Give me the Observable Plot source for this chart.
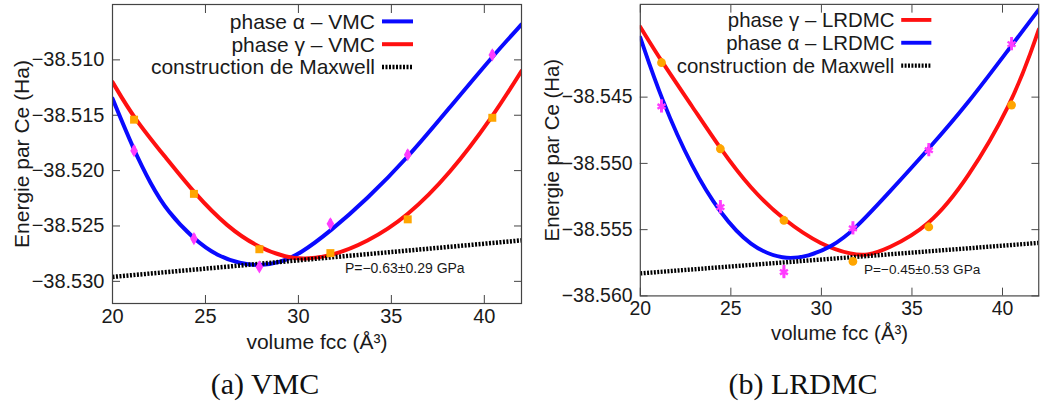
<!DOCTYPE html>
<html><head><meta charset="utf-8">
<script src="https://cdn.jsdelivr.net/npm/d3@7"></script>
<script src="https://cdn.jsdelivr.net/npm/@observablehq/plot@0.6"></script>
<style>
html,body{margin:0;padding:0;background:#fff;overflow:hidden;}
#wrap{position:relative;width:1047px;height:413px;overflow:hidden;background:#fff;}
.panel{position:absolute;top:0;}
.cap{position:absolute;top:366px;font-family:"Liberation Serif",serif;font-size:30px;color:#111;transform:translateX(-50%);white-space:nowrap;line-height:36px;}
</style></head><body>
<div id="wrap">
  <div id="pa" class="panel" style="left:0"></div>
  <div id="pb" class="panel" style="left:530px"></div>
  <div class="cap" id="capa" style="left:265px"></div>
  <div class="cap" id="capb" style="left:803px"></div>
</div>
<script>
// ---------- shared text ----------
const xTitle = "volume fcc (Å³)";
const yTitle = "Energie par Ce (Ha)";
const captions = ["(a) VMC", "(b) LRDMC"];
const xTicks = [20, 25, 30, 35, 40];
const xDomain = [20, 42];

// ---------- (a) VMC ----------
const vmcVolumes = [21.16, 24.38, 27.90, 31.72, 35.88, 40.43];
const vmcAlphaE = [-38.5182, -38.52615, -38.5287, -38.5248, -38.51857, -38.50955];
const vmcAlphaErr = [0.0004, 0.0004, 0.0004, 0.0004, 0.0004, 0.0004];
const vmcGammaE = [-38.5154, -38.5221, -38.5271, -38.52745, -38.5244, -38.51523];
const vmcAlphaFitV = [20, 21.16, 22.05, 22.95, 24.38, 25.63, 26.88, 27.9, 29.03, 30.1, 31.7, 33.67, 35.9, 38.14, 40.43, 42];
const vmcAlphaFitE = [-38.5135, -38.5182, -38.5212, -38.5237, -38.5262, -38.5277, -38.5284, -38.5286, -38.5283, -38.5275, -38.5255, -38.5226, -38.5188, -38.5143, -38.5097, -38.5068];
const vmcGammaFitV = [20, 21.16, 22.95, 24.38, 26.17, 27.9, 29.38, 30.3, 31.7, 33.67, 35.9, 38.14, 40.43, 42];
const vmcGammaFitE = [-38.5120, -38.5153, -38.5190, -38.5220, -38.5251, -38.5270, -38.52785, -38.5280, -38.52775, -38.5265, -38.5241, -38.5203, -38.5152, -38.5110];
const vmcMaxwellV = [20, 42];
const vmcMaxwellE = [-38.5296, -38.5263];
const vmcPressure = "P=−0.63±0.29 GPa";
const vmcPressureAt = [32.5, -38.5288];
const vmcLegend = ["phase α – VMC", "phase γ – VMC", "construction de Maxwell"];
const vmcYTicks = [-38.530, -38.525, -38.520, -38.515, -38.510];
const vmcYDomain = [-38.532, -38.505];

// ---------- (b) LRDMC ----------
const lrdVolumes = [21.17, 24.42, 27.93, 31.74, 35.93, 40.50];
const lrdGammaE = [-38.5424, -38.5489, -38.5543, -38.5574, -38.5548, -38.5456];
const lrdGammaErr = [0.0003, 0.0003, 0.0003, 0.0003, 0.0003, 0.0003];
const lrdAlphaE = [-38.5457, -38.5533, -38.5582, -38.5549, -38.5490, -38.5410];
const lrdAlphaErr = [0.0005, 0.0005, 0.0005, 0.0005, 0.0005, 0.0005];
const lrdAlphaFitV = [20, 21.17, 22.87, 24.42, 26.08, 27.93, 29.31, 30.56, 31.76, 33.6, 35.93, 38.08, 40.5, 42];
const lrdAlphaFitE = [-38.5405, -38.5452, -38.5504, -38.5538, -38.5563, -38.5573, -38.5570, -38.5563, -38.5551, -38.5524, -38.5489, -38.5455, -38.5411, -38.5384];
const lrdGammaFitV = [20, 21.17, 22.87, 24.42, 26.08, 27.93, 30.02, 31.76, 32.5, 33.6, 35.93, 38.08, 40.5, 41.68, 42];
const lrdGammaFitE = [-38.5397, -38.5423, -38.5457, -38.5489, -38.5519, -38.5543, -38.5562, -38.5569, -38.55695, -38.5565, -38.5548, -38.5512, -38.5455, -38.5412, -38.5399];
const lrdMaxwellV = [20, 42];
const lrdMaxwellE = [-38.5583, -38.5560];
const lrdPressure = "P=−0.45±0.53 GPa";
const lrdPressureAt = [32.35, -38.5580];
const lrdLegend = ["phase γ – LRDMC", "phase α – LRDMC", "construction de Maxwell"];
const lrdYTicks = [-38.560, -38.555, -38.550, -38.545];
const lrdYDomain = [-38.560, -38.538];

// ---------- styles ----------
const BLUE = "#0a0aff", RED = "#ff1010", ORANGE = "#ffa500", MAGENTA = "#ff3cff", BLACK = "#000";
const FRAME = "#444", TXT = "#1a1a1a";
const DASH = "2,1.5";

const zip = (xs, ys) => xs.map((x, i) => ({x, y: ys[i]}));
const zipErr = (xs, ys, es) => xs.map((x, i) => ({x, y: ys[i], lo: ys[i] - es[i], hi: ys[i] + es[i]}));

function legendMark(items, opt) {
  return function (index, scales, values, dimensions) {
    const {marginLeft, marginTop} = dimensions;
    const g = d3.create("svg:g");
    items.forEach((it, i) => {
      const y = marginTop + opt.top + i * opt.gap;
      const xe = marginLeft + opt.textEnd;
      g.append("text").attr("x", xe).attr("y", y).attr("dy", "0.35em")
        .attr("text-anchor", "end").attr("font-size", 21).attr("fill", TXT).text(it.label);
      g.append("line").attr("x1", xe + 7).attr("x2", xe + 38)
        .attr("y1", y).attr("y2", y).attr("stroke", it.color).attr("stroke-width", it.width)
        .attr("stroke-linecap", "butt")
        .attr("stroke-dasharray", it.dash || null);
    });
    return g.node();
  };
}

function axes(yTicks) {
  const fmt = d3.format(".3f");
  return [
    Plot.axisX(xTicks, {anchor: "bottom", tickSize: -8, tickFormat: () => "", label: null, stroke: FRAME}),
    Plot.axisX(xTicks, {anchor: "top", tickSize: -8, tickFormat: () => "", label: null, stroke: FRAME}),
    Plot.axisX(xTicks, {anchor: "bottom", tickSize: 0, tickPadding: 5, tickFormat: d => String(d), label: null, fontSize: 20, fill: TXT}),
    Plot.axisY(yTicks, {anchor: "left", tickSize: -8, tickFormat: () => "", label: null, stroke: FRAME}),
    Plot.axisY(yTicks, {anchor: "right", tickSize: -8, tickFormat: () => "", label: null, stroke: FRAME}),
    Plot.axisY(yTicks, {anchor: "left", tickSize: 0, tickPadding: 8, tickFormat: fmt, label: null, fontSize: 20, fill: TXT})
  ];
}

function titles() {
  return [
    Plot.text([xTitle], {frameAnchor: "bottom", dy: 45, textAnchor: "middle", fontSize: 21, fill: TXT}),
    Plot.text([yTitle], {frameAnchor: "left", dx: -90, rotate: -90, textAnchor: "middle", fontSize: 21, fill: TXT})
  ];
}

const maxwellStyle = {x: "x", y: "y", stroke: BLACK, strokeWidth: 4.5, strokeDasharray: DASH, strokeLinecap: "butt", clip: true};

// ---------- panel (a) ----------
const plotA = Plot.plot({
  width: 530, height: 365,
  marginLeft: 112, marginRight: 9, marginTop: 4, marginBottom: 62,
  style: {fontFamily: "'Liberation Sans', Arial, sans-serif", background: "transparent"},
  x: {domain: xDomain, axis: null},
  y: {domain: vmcYDomain, axis: null},
  marks: [
    ...axes(vmcYTicks),
    ...titles(),
    Plot.line(zip(vmcAlphaFitV, vmcAlphaFitE), {x: "x", y: "y", stroke: BLUE, strokeWidth: 4, curve: "basis", clip: true}),
    Plot.line(zip(vmcGammaFitV, vmcGammaFitE), {x: "x", y: "y", stroke: RED, strokeWidth: 4, curve: "basis", clip: true}),
    Plot.line(zip(vmcMaxwellV, vmcMaxwellE), maxwellStyle),
    Plot.ruleX(zipErr(vmcVolumes, vmcAlphaE, vmcAlphaErr), {x: "x", y1: "lo", y2: "hi", stroke: MAGENTA, strokeWidth: 3}),
    Plot.dot(zip(vmcVolumes, vmcAlphaE), {x: "x", y: "y", symbol: "diamond", r: 4, fill: MAGENTA}),
    Plot.dot(zip(vmcVolumes, vmcGammaE), {x: "x", y: "y", symbol: "square", r: 4.5, fill: ORANGE}),
    Plot.text([vmcPressure], {x: vmcPressureAt[0], y: vmcPressureAt[1], textAnchor: "start", fontSize: 14, fill: TXT}),
    legendMark([
      {label: vmcLegend[0], color: BLUE, width: 4},
      {label: vmcLegend[1], color: RED, width: 4},
      {label: vmcLegend[2], color: BLACK, width: 4.5, dash: DASH}
    ], {top: 17.4, gap: 22.8, textEnd: 263}),
    Plot.frame({stroke: FRAME, strokeWidth: 1.2})
  ]
});
document.getElementById("pa").append(plotA);

// ---------- panel (b) ----------
const plotB = Plot.plot({
  width: 532, height: 365,
  marginLeft: 113, marginRight: 9, marginTop: 4, marginBottom: 61,
  style: {fontFamily: "'Liberation Sans', Arial, sans-serif", background: "transparent"},
  x: {domain: xDomain, axis: null},
  y: {domain: lrdYDomain, axis: null},
  marks: [
    ...axes(lrdYTicks),
    ...titles(),
    Plot.line(zip(lrdGammaFitV, lrdGammaFitE), {x: "x", y: "y", stroke: RED, strokeWidth: 4, curve: "basis", clip: true}),
    Plot.line(zip(lrdAlphaFitV, lrdAlphaFitE), {x: "x", y: "y", stroke: BLUE, strokeWidth: 4, curve: "basis", clip: true}),
    Plot.line(zip(lrdMaxwellV, lrdMaxwellE), maxwellStyle),
    Plot.ruleX(zipErr(lrdVolumes, lrdGammaE, lrdGammaErr), {x: "x", y1: "lo", y2: "hi", stroke: ORANGE, strokeWidth: 3}),
    Plot.dot(zip(lrdVolumes, lrdGammaE), {x: "x", y: "y", symbol: "circle", r: 4.5, fill: ORANGE}),
    Plot.ruleX(zipErr(lrdVolumes, lrdAlphaE, lrdAlphaErr), {x: "x", y1: "lo", y2: "hi", stroke: MAGENTA, strokeWidth: 3}),
    Plot.dot(zip(lrdVolumes, lrdAlphaE), {x: "x", y: "y", symbol: "asterisk", r: 4.5, stroke: MAGENTA, strokeWidth: 2.5}),
    Plot.text([lrdPressure], {x: lrdPressureAt[0], y: lrdPressureAt[1], textAnchor: "start", fontSize: 14, fill: TXT}),
    legendMark([
      {label: lrdLegend[0], color: RED, width: 4},
      {label: lrdLegend[1], color: BLUE, width: 4},
      {label: lrdLegend[2], color: BLACK, width: 4.5, dash: DASH}
    ], {top: 16.5, gap: 23.5, textEnd: 262}),
    Plot.frame({stroke: FRAME, strokeWidth: 1.2})
  ]
});
document.getElementById("pb").append(plotB);

document.getElementById("capa").textContent = captions[0];
document.getElementById("capb").textContent = captions[1];
</script>
</body></html>
